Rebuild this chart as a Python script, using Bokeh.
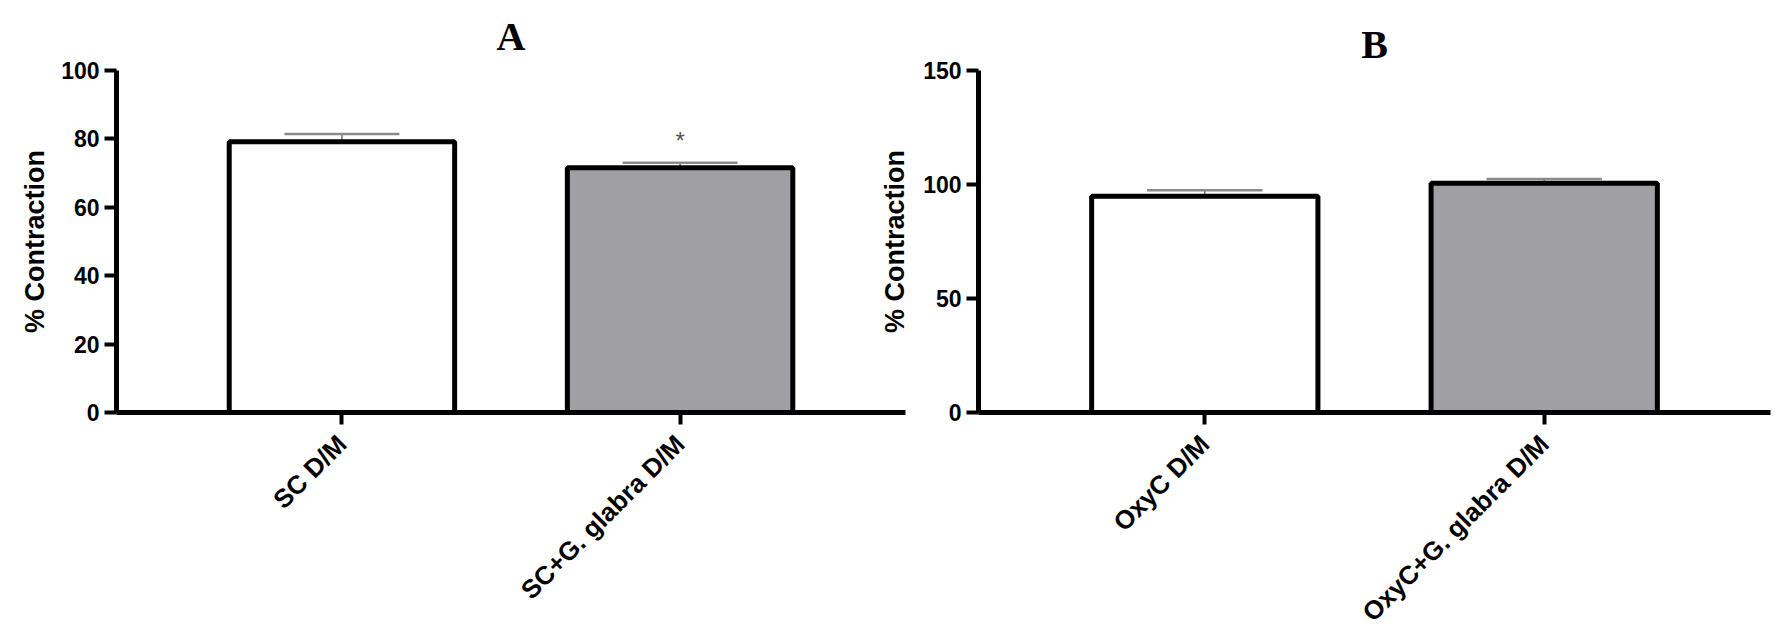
import math
from bokeh.plotting import figure
from bokeh.layouts import row
from bokeh.models import Range1d, FixedTicker, Title, ColumnDataSource
from bokeh.core.properties import value
from bokeh.embed import file_html
from bokeh.resources import INLINE

# ---- data ----
cats_a = ["SC D/M", "SC+G. glabra D/M"]
mean_a = [79.2, 71.6]
sem_a = [2.2, 1.4]
sig_a = ["", "*"]
yticks_a = [0, 20, 40, 60, 80, 100]

cats_b = ["OxyC D/M", "OxyC+G. glabra D/M"]
mean_b = [94.8, 100.6]
sem_b = [2.7, 1.8]
sig_b = ["", ""]
yticks_b = [0, 50, 100, 150]

fills = ["#FFFFFF", "#A09FA4"]
FONT = "Liberation Sans"


def panel(cats, means, sems, sig, yticks, title, title_standoff,
          left_border, frame_w, right_border, margin=None):
    xs = list(range(1, len(cats) + 1))
    kw = {}
    if margin is not None:
        kw["margin"] = margin
    p = figure(output_backend="svg", toolbar_location=None,
               frame_width=frame_w, frame_height=342,
               min_border_left=left_border, min_border_right=right_border,
               min_border_top=70, min_border_bottom=200,
               x_range=Range1d(1 / 3, len(cats) + 2 / 3),
               y_range=Range1d(yticks[0], yticks[-1]), **kw)
    p.grid.visible = False
    p.outline_line_color = None
    p.background_fill_color = None
    p.border_fill_color = None

    tops = [m + s for m, s in zip(means, sems)]
    src = ColumnDataSource(dict(x=xs, top=means, fill=fills[:len(xs)],
                                etop=tops, cl=[x - 0.17 for x in xs],
                                cr=[x + 0.17 for x in xs],
                                sy=[t + 6.4 * (yticks[-1] / 100) for t in tops],
                                sig=sig))
    # error bars (upper only)
    p.segment(x0="x", y0="top", x1="x", y1="etop", source=src,
              line_color="#6e6e6e", line_width=1.5)
    p.segment(x0="cl", y0="etop", x1="cr", y1="etop", source=src,
              line_color="#8a8a8a", line_width=2.5)
    p.vbar(x="x", top="top", bottom=0, width=2 / 3, source=src,
           fill_color="fill", line_color="black", line_width=5)
    p.text(x="x", y="sy", text="sig", source=src, text_align="center",
           text_baseline="middle", text_font=value(FONT),
           text_font_size="24px", text_color="#555555")

    # axes
    for ax in (p.xaxis[0], p.yaxis[0]):
        ax.axis_line_width = 5
        ax.axis_line_color = "black"
        ax.major_tick_line_width = 4
        ax.major_tick_out = 12
        ax.major_tick_in = 0
        ax.minor_tick_line_color = None
        ax.major_label_text_font = FONT
        ax.major_label_text_font_style = "bold"
        ax.major_label_text_color = "black"
    p.yaxis[0].ticker = FixedTicker(ticks=yticks)
    p.yaxis[0].major_label_text_font_size = "23px"
    p.yaxis[0].major_label_standoff = 5
    p.yaxis[0].axis_label = "% Contraction"
    p.yaxis[0].axis_label_text_font = FONT
    p.yaxis[0].axis_label_text_font_style = "bold"
    p.yaxis[0].axis_label_text_font_size = "27px"
    p.yaxis[0].axis_label_text_color = "black"
    p.xaxis[0].ticker = FixedTicker(ticks=xs)
    p.xaxis[0].major_label_overrides = {x: c for x, c in zip(xs, cats)}
    p.xaxis[0].major_label_orientation = math.pi / 4
    p.xaxis[0].major_label_text_font_size = "26px"
    p.xaxis[0].major_label_standoff = 15

    p.add_layout(Title(text=title, align="center",
                       text_font="Liberation Serif", text_font_style="bold",
                       text_font_size="40px", text_color="black",
                       standoff=title_standoff), "above")
    return p


pa = panel(cats_a, mean_a, sem_a, sig_a, yticks_a, "A", 23, 116, 789, 5)
pb = panel(cats_b, mean_b, sem_b, sig_b, yticks_b, "B", 8, 118, 792, 6,
           margin=(0, 0, 0, -50))
pa.yaxis[0].axis_label_standoff = 8
pb.yaxis[0].axis_label_standoff = 10

layout = row(pa, pb)
open("out.html", "w").write(file_html(layout, INLINE))
